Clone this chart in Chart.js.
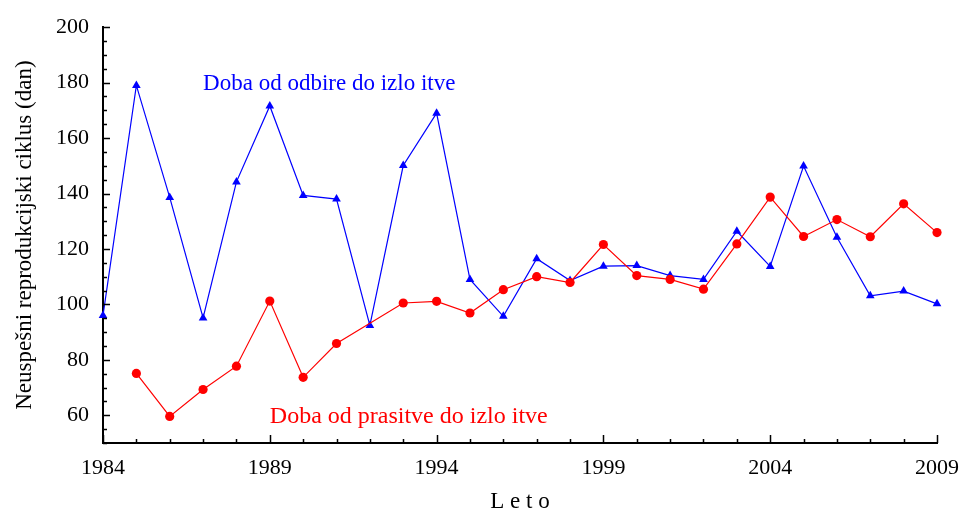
<!DOCTYPE html>
<html>
<head>
<meta charset="utf-8">
<script src="https://cdn.jsdelivr.net/npm/chart.js@4.4.1/dist/chart.umd.min.js"></script>
<style>
  html, body { margin: 0; padding: 0; background: #fff; }
  #wrap { width: 964px; height: 510px; }
</style>
</head>
<body>
<div id="wrap"><canvas id="c" width="964" height="510"></canvas></div>
<script>
const years = [1984, 1985, 1986, 1987, 1988, 1989, 1990, 1991, 1992, 1993, 1994, 1995, 1996,
               1997, 1998, 1999, 2000, 2001, 2002, 2003, 2004, 2005, 2006, 2007, 2008, 2009];
const odbireDoIzlocitve = [96, 179, 138.6, 95.1, 144.2, 171.6, 139.3, 138, 92.4, 150.1, 169, 109, 95.7,
                           116.5, 108.6, 113.8, 114, 110.4, 109, 126.4, 113.7, 149.9, 124.2, 103.1, 104.8, 100.2];
const prasitveDoIzlocitve = [null, 75.1, 59.6, 69.3, 77.7, 101.2, 73.7, 85.9, null, 100.5, 101.1, 96.9, 105.3,
                             110, 107.9, 121.6, 110.4, 109, 105.5, 121.8, 138.7, 124.5, 130.6, 124.4, 136.3, 125.9];
const xTickLabels = [1984, 1989, 1994, 1999, 2004, 2009];
const yTickLabels = [60, 80, 100, 120, 140, 160, 180, 200];
const labelOdbire = 'Doba od odbire do izlo itve';
const labelPrasitve = 'Doba od prasitve do izlo itve';
const yTitle = 'Neuspešni reprodukcijski ciklus (dan)';
const xTitle = 'L e t o';

const FONT = '"Liberation Serif", "Times New Roman", serif';

const toXY = arr => years.map((yr, i) => ({ x: yr, y: arr[i] }));

const ticksAndNotes = {
  id: 'ticksAndNotes',
  afterDraw(chart) {
    const ctx = chart.ctx;
    const xs = chart.scales.x, ys = chart.scales.y;
    const a = chart.chartArea;
    ctx.save();
    ctx.strokeStyle = '#000';
    ctx.lineWidth = 1.5;
    ctx.beginPath();
    for (let v = 50; v <= 200; v += 5) {
      const py = Math.round(ys.getPixelForValue(v)) + 0.5;
      const len = yTickLabels.includes(v) ? 7 : 4;
      ctx.moveTo(a.left, py);
      ctx.lineTo(a.left + len, py);
    }
    years.forEach(yr => {
      const px = Math.round(xs.getPixelForValue(yr)) + 0.5;
      const len = xTickLabels.includes(yr) ? 8 : 4;
      ctx.moveTo(px, a.bottom);
      ctx.lineTo(px, a.bottom - len);
    });
    ctx.stroke();
    ctx.font = '23px ' + FONT;
    ctx.textBaseline = 'alphabetic';
    ctx.textAlign = 'left';
    ctx.fillStyle = '#0000ff';
    ctx.fillText(labelOdbire, xs.getPixelForValue(1987), ys.getPixelForValue(177.2));
    ctx.font = '24px ' + FONT;
    ctx.fillStyle = '#ff0000';
    ctx.fillText(labelPrasitve, xs.getPixelForValue(1989), ys.getPixelForValue(57.3));
    ctx.restore();
  }
};

new Chart(document.getElementById('c'), {
  type: 'line',
  data: {
    datasets: [
      {
        label: labelPrasitve,
        data: toXY(prasitveDoIzlocitve),
        borderColor: '#ff0000',
        backgroundColor: '#ff0000',
        borderWidth: 1.2,
        pointStyle: 'circle',
        pointRadius: 4.6,
        pointBorderWidth: 0,
        spanGaps: true,
        tension: 0,
        clip: false,
        order: 0
      },
      {
        label: labelOdbire,
        data: toXY(odbireDoIzlocitve),
        borderColor: '#0000ff',
        backgroundColor: '#0000ff',
        borderWidth: 1.2,
        pointStyle: 'triangle',
        pointRadius: 5,
        pointBorderWidth: 0,
        tension: 0,
        clip: false,
        order: 1
      }
    ]
  },
  options: {
    responsive: false,
    animation: false,
    events: [],
    layout: { padding: { top: 26, right: 27, left: 0, bottom: 0 } },
    plugins: { legend: { display: false }, tooltip: { enabled: false } },
    scales: {
      x: {
        type: 'linear',
        min: 1984,
        max: 2009,
        offset: false,
        grid: { display: false, drawTicks: false },
        border: { display: true, color: '#000', width: 2 },
        afterBuildTicks: s => { s.ticks = xTickLabels.map(v => ({ value: v })); },
        afterFit: s => { s.height = 67; s.paddingLeft = 0; s.paddingRight = 0; },
        ticks: {
          padding: 12,
          maxRotation: 0,
          autoSkip: false,
          color: '#000',
          font: { family: FONT, size: 22 },
          callback: v => String(v)
        },
        title: {
          display: true,
          text: xTitle,
          color: '#000',
          font: { family: FONT, size: 23 },
          padding: { top: 0, bottom: -6 }
        }
      },
      y: {
        min: 50,
        max: 200,
        grid: { display: false, drawTicks: false },
        border: { display: true, color: '#000', width: 2 },
        afterBuildTicks: s => { s.ticks = yTickLabels.map(v => ({ value: v })); },
        afterFit: s => { s.width = 103; },
        ticks: {
          padding: 14,
          color: '#000',
          font: { family: FONT, size: 22 },
          callback: v => String(v)
        },
        title: {
          display: true,
          text: yTitle,
          color: '#000',
          font: { family: FONT, size: 23 },
          padding: { top: 11, bottom: 0 }
        }
      }
    }
  },
  plugins: [ticksAndNotes]
});
</script>
</body>
</html>
